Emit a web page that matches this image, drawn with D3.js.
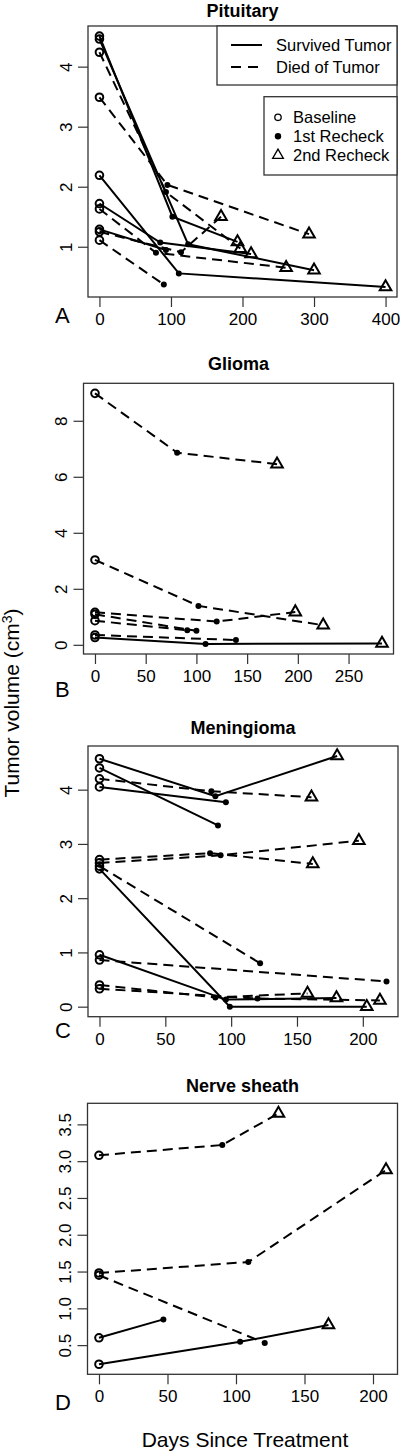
<!DOCTYPE html>
<html><head><meta charset="utf-8">
<script src="https://cdn.jsdelivr.net/npm/d3@7"></script>
<style>
body{margin:0;background:#fff}
svg{display:block}
text{font-family:"Liberation Sans",Arial,Helvetica,sans-serif;fill:#000}
</style>
</head><body>
<svg id="chart" width="400" height="1452"></svg>
<script>
// ---------------- DATA ----------------
const statusTypes = ["Survived Tumor", "Died of Tumor"];
const visitTypes = ["Baseline", "1st Recheck", "2nd Recheck"];

// Pituitary: one entry per dog (days since treatment, tumor volume cm3, outcome)
const pitDays = [[0,102,193],[0,124,300],[0,93,197],[0,95,293],[0,111,400],[0,85,212],[0,79,261],[0,93],[0,114,170],[0,90]];
const pitVol  = [[4.51,1.50,1.08],[4.46,1.04,0.61],[4.24,1.91,0.97],[3.49,2.03,1.21],[2.19,0.556,0.33],[1.72,1.07,0.88],[1.63,0.90,0.65],[1.29,0.945],[1.25,0.91,1.50],[1.11,0.37]];
const pitDied = [0,0,1,1,0,0,1,0,1,1];
const pitXTicks = [0,100,200,300,400];
const pitYTicks = [1,2,3,4];

// Glioma
const gliDays = [[0,81,179.5],[0,102,225],[0,120,197.5],[0,100],[0,91],[0,139],[0,109,283]];
const gliVol  = [[8.98,6.86,6.45],[3.03,1.39,0.70],[1.16,0.83,1.17],[1.09,0.50],[0.86,0.52],[0.35,0.17],[0.26,0.03,0.05]];
const gliDied = [1,1,1,1,1,1,0];
const gliXTicks = [0,50,100,150,200,250];
const gliYTicks = [0,2,4,6,8];

// Meningioma
const menDays = [[0,88,180.5],[0,90],[0,85,161],[0,96],[0,84,162],[0,92,197],[0,122],[0,99,203],[0,96,180],[0,218],[0,88,158],[0,120,213]];
const menVol  = [[4.57,3.88,4.62],[4.40,3.34],[4.20,3.97,3.86],[4.05,3.77],[2.71,2.83,2.63],[2.65,2.79,3.06],[2.59,0.80],[2.54,0.0,0.0],[0.956,0.13,0.16],[0.86,0.465],[0.40,0.17,0.245],[0.33,0.15,0.116]];
const menDied = [0,0,1,0,1,1,1,0,0,1,1,1];
const menXTicks = [0,50,100,150,200];
const menYTicks = [0,1,2,3,4];

// Nerve sheath
const nerDays = [[0,90,131],[0,109,209.5],[0,121],[0,47],[0,103,167.5]];
const nerVol  = [[3.08,3.22,3.65],[1.48,1.63,2.88],[1.45,0.53],[0.60,0.85],[0.24,0.545,0.775]];
const nerDied = [1,1,1,0,0];
const nerXTicks = [0,50,100,150,200];
const nerYTicks = [0.5,1.0,1.5,2.0,2.5,3.0,3.5];

const panelTitles = ["Pituitary","Glioma","Meningioma","Nerve sheath"];
const panelLetters = ["A","B","C","D"];
const xAxisTitle = "Days Since Treatment";

// ---------------- DRAW ----------------
const svg = d3.select("#chart");
const DASH = "10,6";
const AX = "#333";

function panel(cfg){
  const g = svg.append("g");
  const allX = cfg.days.flat(), allY = cfg.vol.flat();
  const [x0,x1] = d3.extent(allX), [y0,y1] = d3.extent(allY);
  const px = (x1-x0)*0.04, py = (y1-y0)*0.04;
  const x = d3.scaleLinear().domain([x0-px, x1+px]).range([cfg.box.l, cfg.box.r]);
  const y = d3.scaleLinear().domain([y0-py, y1+py]).range([cfg.box.b, cfg.box.t]);

  g.append("rect").attr("x",cfg.box.l).attr("y",cfg.box.t)
    .attr("width",cfg.box.r-cfg.box.l).attr("height",cfg.box.b-cfg.box.t)
    .attr("fill","none").attr("stroke",AX).attr("stroke-width",1.3);

  const xa = g.append("g").attr("transform",`translate(0,${cfg.box.b})`)
    .call(d3.axisBottom(x).tickValues(cfg.xTicks).tickSize(10).tickPadding(6).tickFormat(d3.format("d")));
  xa.select(".domain").remove();
  xa.selectAll("line").attr("stroke",AX).attr("stroke-width",1.2);
  xa.selectAll("text").attr("font-size",17).attr("font-family","Liberation Sans, Arial, sans-serif");

  const ya = g.append("g").attr("transform",`translate(${cfg.box.l},0)`)
    .call(d3.axisLeft(y).tickValues(cfg.yTicks).tickSize(10).tickFormat(cfg.yFmt));
  ya.select(".domain").remove();
  ya.selectAll("line").attr("stroke",AX).attr("stroke-width",1.2);
  ya.selectAll("text").attr("font-size",17).attr("font-family","Liberation Sans, Arial, sans-serif")
    .attr("x",null).attr("dy",null)
    .attr("text-anchor","middle")
    .attr("transform","translate(-22,0) rotate(-90)")
    .attr("dy","0.35em");

  g.append("text").attr("x",(cfg.box.l+cfg.box.r)/2).attr("y",cfg.titleY)
    .attr("text-anchor","middle").attr("font-size",18).attr("font-weight","bold").text(cfg.title);
  g.append("text").attr("x",55).attr("y",cfg.letterY).attr("font-size",22).text(cfg.letter);

  const line = d3.line().x(d=>x(d[0])).y(d=>y(d[1]));
  cfg.days.forEach((ds,i)=>{
    const pts = ds.map((d,j)=>[d,cfg.vol[i][j]]);
    g.append("path").attr("d",line(pts)).attr("fill","none").attr("stroke","#000")
      .attr("stroke-width",2).attr("stroke-dasharray",cfg.died[i]? DASH : null);
    pts.forEach((p,j)=>{
      if(j===0){
        g.append("circle").attr("cx",x(p[0])).attr("cy",y(p[1])).attr("r",3.8)
          .attr("fill","none").attr("stroke","#000").attr("stroke-width",2);
      } else if(j===1){
        g.append("circle").attr("cx",x(p[0])).attr("cy",y(p[1])).attr("r",3)
          .attr("fill","#000");
      } else {
        g.append("path").attr("transform",`translate(${x(p[0])},${y(p[1])})`)
          .attr("d",d3.symbol(d3.symbolTriangle,58)()).attr("fill","none")
          .attr("stroke","#000").attr("stroke-width",2);
      }
    });
  });
  return {g,x,y};
}

const fmt0 = d3.format("d"), fmt1 = d3.format(".1f");
panel({box:{l:88,r:397,t:26,b:297},days:pitDays,vol:pitVol,died:pitDied,xTicks:pitXTicks,yTicks:pitYTicks,yFmt:fmt0,title:panelTitles[0],titleY:17,letter:panelLetters[0],letterY:323});
panel({box:{l:83.5,r:393.5,t:383.3,b:654},days:gliDays,vol:gliVol,died:gliDied,xTicks:gliXTicks,yTicks:gliYTicks,yFmt:fmt0,title:panelTitles[1],titleY:370,letter:panelLetters[1],letterY:697});
panel({box:{l:88,r:398,t:746,b:1016.7},days:menDays,vol:menVol,died:menDied,xTicks:menXTicks,yTicks:menYTicks,yFmt:fmt0,title:panelTitles[2],titleY:734,letter:panelLetters[2],letterY:1038});
panel({box:{l:87.5,r:397.5,t:1103.3,b:1374.3},days:nerDays,vol:nerVol,died:nerDied,xTicks:nerXTicks,yTicks:nerYTicks,yFmt:fmt1,title:panelTitles[3],titleY:1092,letter:panelLetters[3],letterY:1410});

// legends in panel A
const lg = svg.append("g");
lg.append("rect").attr("x",217).attr("y",26).attr("width",180).attr("height",59)
  .attr("fill","#fff").attr("stroke",AX).attr("stroke-width",1.3);
statusTypes.forEach((s,i)=>{
  const yy = 45 + i*22;
  lg.append("line").attr("x1",231).attr("x2",262).attr("y1",yy).attr("y2",yy)
    .attr("stroke","#000").attr("stroke-width",2).attr("stroke-dasharray",i? "10,7": null);
  lg.append("text").attr("x",276).attr("y",yy).attr("dy","0.35em").attr("font-size",16.5).text(s);
});
lg.append("rect").attr("x",264).attr("y",96.7).attr("width",133).attr("height",78.3)
  .attr("fill","#fff").attr("stroke",AX).attr("stroke-width",1.3);
visitTypes.forEach((s,i)=>{
  const yy = 117.3 + i*19;
  if(i===0) lg.append("circle").attr("cx",278).attr("cy",yy).attr("r",3.2).attr("fill","none").attr("stroke","#000").attr("stroke-width",1.3);
  else if(i===1) lg.append("circle").attr("cx",278).attr("cy",yy).attr("r",3.2).attr("fill","#000");
  else lg.append("path").attr("transform",`translate(278,${yy})`).attr("d",d3.symbol(d3.symbolTriangle,50)()).attr("fill","none").attr("stroke","#000").attr("stroke-width",1.3);
  lg.append("text").attr("x",293).attr("y",yy).attr("dy","0.35em").attr("font-size",16.5).text(s);
});

// shared axis titles
const yt = svg.append("text").attr("transform","translate(19,703) rotate(-90)")
  .attr("text-anchor","middle").attr("font-size",21);
yt.append("tspan").text("Tumor volume (cm");
yt.append("tspan").attr("dy",-7).attr("font-size",14).text("3");
yt.append("tspan").attr("dy",7).text(")");
svg.append("text").attr("x",245).attr("y",1447).attr("text-anchor","middle").attr("font-size",21).text(xAxisTitle);
</script>
</body></html>
